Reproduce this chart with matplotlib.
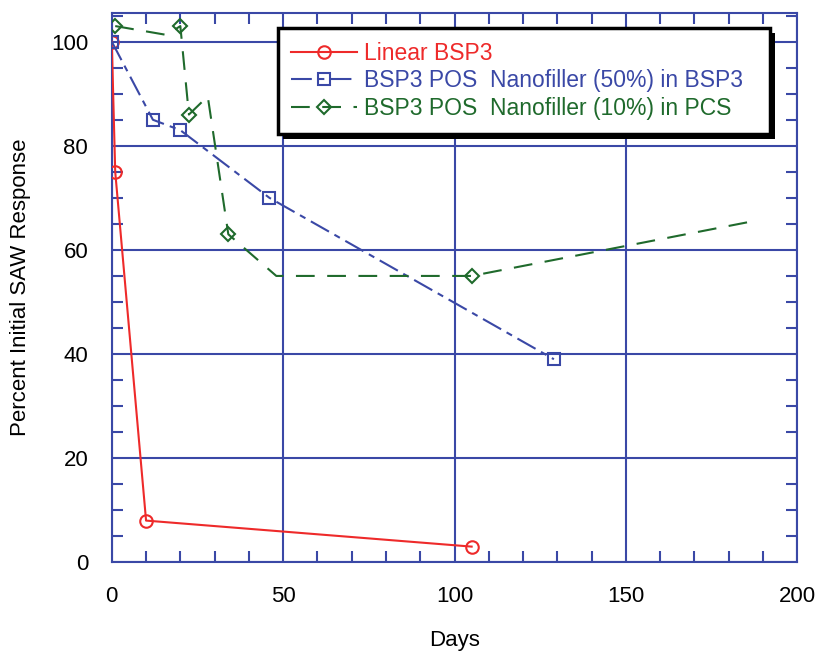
import matplotlib.pyplot as plt
from matplotlib.ticker import MultipleLocator
from matplotlib.patches import Rectangle
from matplotlib.transforms import IdentityTransform

plt.rcParams['font.family'] = ['Liberation Sans', 'DejaVu Sans']

# Linear BSP3
red_x = [0, 1, 10, 105]
red_y = [100, 75, 8, 3]

# BSP3 POS Nanofiller (50%) in BSP3
blue_x = [0, 12, 20, 46, 129]
blue_y = [100, 85, 83, 70, 39]

# BSP3 POS Nanofiller (10%) in PCS  (line has extra vertices, markers only on some)
green_x = [1, 16, 20, 22.5, 28, 34, 48, 105, 187]
green_y = [103, 101.3, 103, 86, 89.5, 63, 55, 55, 65.5]
green_marks = [0, 2, 3, 5, 7]

labels = ['Linear BSP3',
          'BSP3 POS  Nanofiller (50%) in BSP3',
          'BSP3 POS  Nanofiller (10%) in PCS']

red = '#ee2a2a'
blue = '#3a48a6'
green = '#1f6a2c'

fig = plt.figure(figsize=(8.16, 6.53), dpi=100)
ax = fig.add_axes([0.137, 0.139, 0.840, 0.841])

ax.plot(red_x, red_y, color=red, lw=1.5, marker='o', ms=9, mfc='none',
        mec=red, mew=1.5, label=labels[0], zorder=3)
ax.plot(blue_x, blue_y, color=blue, lw=1.5, dashes=(10, 3, 3, 3), marker='s',
        ms=9, mfc='none', mec=blue, mew=1.5, label=labels[1], zorder=3)
ax.plot(green_x, green_y, color=green, lw=1.5, dashes=(9, 6), marker='D',
        ms=7, mfc='none', mec=green, mew=1.5, markevery=green_marks,
        label=labels[2], zorder=3)

ax.set_xlim(0, 200)
ax.set_ylim(0, 105.5)
ax.xaxis.set_major_locator(MultipleLocator(50))
ax.xaxis.set_minor_locator(MultipleLocator(10))
ax.yaxis.set_major_locator(MultipleLocator(20))
ax.yaxis.set_minor_locator(MultipleLocator(5))
ax.grid(True, which='major', color=blue, lw=1.5)
ax.set_axisbelow(True)
ax.tick_params(which='both', direction='in', top=True, right=True,
               color=blue, width=1.5, labelsize=16, labelcolor='black')
ax.tick_params(which='major', length=0)
ax.tick_params(axis='x', which='major', pad=17)
ax.tick_params(axis='y', which='major', pad=17)
ax.tick_params(which='minor', length=8)
for s in ax.spines.values():
    s.set_color(blue)
    s.set_linewidth(1.5)

ax.set_xlabel('Days', fontsize=16, labelpad=17)
ax.set_ylabel('Percent Initial SAW Response', fontsize=16, labelpad=14)

leg = ax.legend(loc='upper left', bbox_to_anchor=(0.242, 0.79, 0.718, 0.183),
                mode='expand', fontsize=16.5,
                fancybox=False, framealpha=1, edgecolor='black',
                handlelength=2.85, borderpad=0.6, borderaxespad=0,
                labelspacing=0.2, handletextpad=0.3)
leg.get_frame().set_linewidth(2.5)
for txt, c in zip(leg.get_texts(), [red, blue, green]):
    txt.set_color(c)

# black drop shadow behind the legend box
fig.canvas.draw()
bb = leg.get_window_extent(fig.canvas.get_renderer())
shadow = Rectangle((bb.x0 + 5, bb.y0 - 5), bb.width, bb.height,
                   transform=IdentityTransform(), facecolor='black',
                   edgecolor='none', zorder=4.5, clip_on=False)
ax.add_artist(shadow)

fig.savefig('out.png', dpi=100)
